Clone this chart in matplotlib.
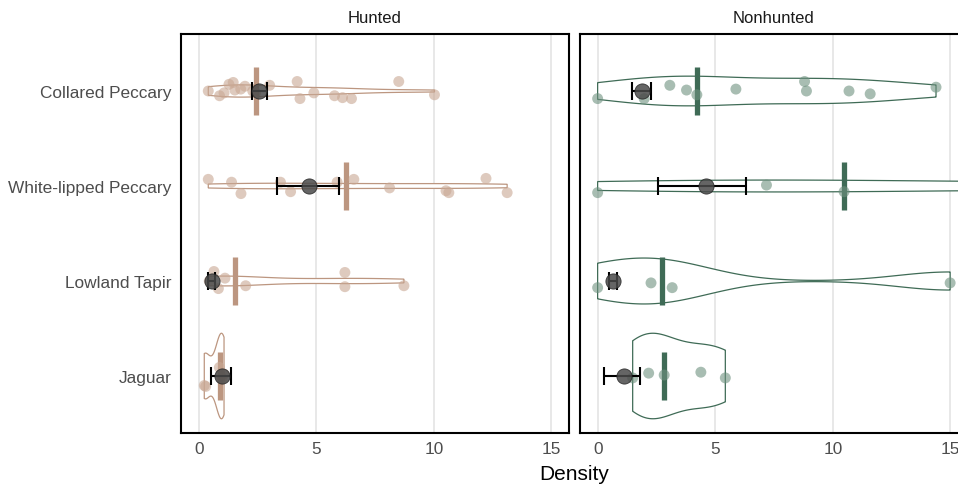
import numpy as np
import matplotlib
matplotlib.use("Agg")
import matplotlib.pyplot as plt

plt.rcParams['font.family'] = ['Liberation Sans', 'DejaVu Sans']

# ---------------- data ----------------
species = ["Jaguar", "Lowland Tapir", "White-lipped Peccary", "Collared Peccary"]  # bottom -> top
panels = ["Hunted", "Nonhunted"]

# Hunted raw densities (per species) and vertical jitter offsets
hunted_jaguar = [0.24, 0.30, 0.88, 0.94, 1.00, 1.08]
hunted_jaguar_jit = [-0.10, -0.11, 0.09, 0.00, -0.03, 0.02]
hunted_tapir = [0.45, 0.65, 0.84, 1.12, 2.00, 6.22, 6.22, 8.73]
hunted_tapir_jit = [0.00, 0.10, -0.08, 0.03, -0.05, 0.09, -0.06, -0.05]
hunted_wlp = [0.41, 1.40, 1.80, 3.48, 3.91, 5.89, 6.60, 8.12, 10.52, 10.64, 12.22, 13.12]
hunted_wlp_jit = [0.07, 0.04, -0.08, 0.04, -0.06, 0.04, 0.07, -0.02, -0.05, -0.07, 0.08, -0.07]
hunted_cp = [0.41, 0.89, 1.08, 1.29, 1.47, 1.54, 1.79, 1.97, 2.30, 2.42, 3.02, 4.19, 4.31,
             4.90, 5.78, 6.12, 6.50, 8.51, 10.03]
hunted_cp_jit = [0.00, -0.05, -0.02, 0.07, 0.09, 0.01, 0.02, 0.05, 0.00, -0.02, 0.06, 0.10,
                 -0.08, -0.02, -0.05, -0.07, -0.08, 0.10, -0.04]

# Nonhunted
nonhunted_jaguar = [1.49, 2.17, 2.83, 4.39, 5.43]
nonhunted_jaguar_jit = [-0.02, 0.03, 0.01, 0.04, -0.02]
nonhunted_tapir = [0.00, 2.27, 3.17, 14.99]
nonhunted_tapir_jit = [-0.07, -0.02, -0.07, -0.02]
nonhunted_wlp = [0.00, 7.18, 10.48, 22.0, 33.0]
nonhunted_wlp_jit = [-0.07, 0.01, -0.06, 0.00, 0.00]
nonhunted_cp = [0.00, 1.98, 3.07, 3.78, 4.22, 5.88, 8.80, 8.88, 10.69, 11.59, 14.39]
nonhunted_cp_jit = [-0.08, -0.08, 0.06, 0.01, -0.04, 0.02, 0.10, 0.00, 0.00, -0.03, 0.04]

# medians (thick bar), model estimates (dot) with interval, order = species
hunted_median = [0.91, 1.56, 6.25, 2.42]
hunted_est = [0.98, 0.55, 4.70, 2.58]
hunted_lo = [0.54, 0.41, 3.34, 2.25]
hunted_hi = [1.36, 0.69, 5.98, 2.89]

nonhunted_median = [2.83, 2.72, 10.48, 4.22]
nonhunted_est = [1.10, 0.64, 4.60, 1.88]
nonhunted_lo = [0.28, 0.47, 2.58, 1.45]
nonhunted_hi = [1.81, 0.82, 6.30, 2.27]

x_ticks = [0, 5, 10, 15]

panel_data = {
    "Hunted": dict(
        vals=[hunted_jaguar, hunted_tapir, hunted_wlp, hunted_cp],
        jit=[hunted_jaguar_jit, hunted_tapir_jit, hunted_wlp_jit, hunted_cp_jit],
        med=hunted_median, est=hunted_est, lo=hunted_lo, hi=hunted_hi,
        line="#BC9680", pt="#C9A894"),
    "Nonhunted": dict(
        vals=[nonhunted_jaguar, nonhunted_tapir, nonhunted_wlp, nonhunted_cp],
        jit=[nonhunted_jaguar_jit, nonhunted_tapir_jit, nonhunted_wlp_jit, nonhunted_cp_jit],
        med=nonhunted_median, est=nonhunted_est, lo=nonhunted_lo, hi=nonhunted_hi,
        line="#3F6B56", pt="#6E917F"),
}


def bw_nrd0(x):
    x = np.asarray(x, float)
    hi = np.std(x, ddof=1)
    q1, q3 = np.percentile(x, [25, 75])
    lo = min(hi, (q3 - q1) / 1.34)
    if lo <= 0:
        lo = hi if hi > 0 else 1.0
    return 0.9 * lo * len(x) ** (-0.2)


def kde(x, grid):
    x = np.asarray(x, float)
    bw = bw_nrd0(x)
    z = (grid[:, None] - x[None, :]) / bw
    return np.exp(-0.5 * z ** 2).sum(axis=1) / (len(x) * bw * np.sqrt(2 * np.pi))


# ---------------- figure ----------------
W, H = 958, 485
fig = plt.figure(figsize=(W / 100, H / 100), dpi=100)
ax_w = 388 / W
ax_h = 399 / H
bottom = (H - 434) / H
lefts = [181 / W, 580 / W]

for pi, pname in enumerate(panels):
    ax = fig.add_axes([lefts[pi], bottom, ax_w, ax_h])
    d = panel_data[pname]
    ax.set_xlim(-0.75, 15.75)
    ax.set_ylim(0.4, 4.6)
    for xt in x_ticks:
        ax.axvline(xt, color="#E6E6E6", lw=1.3, zorder=0)

    # violins (scale = area within panel)
    grids, dens = [], []
    for v in d["vals"]:
        g = np.linspace(min(v), max(v), 512)
        grids.append(g)
        dens.append(kde(v, g))
    dmax = max(dd.max() for dd in dens)
    for i, (g, dd) in enumerate(zip(grids, dens)):
        yc = i + 1
        w = dd / dmax * 0.45
        xs = np.concatenate([g, g[::-1], [g[0]]])
        ys = np.concatenate([yc + w, (yc - w)[::-1], [yc + w[0]]])
        ax.fill(xs, ys, facecolor="white", edgecolor=d["line"], lw=0.9, zorder=1)

    # median bars
    for i, m in enumerate(d["med"]):
        ax.plot([m, m], [i + 1 - 0.25, i + 1 + 0.25], color=d["line"], lw=3.8,
                solid_capstyle="butt", zorder=2)

    # jittered points
    for i, (v, j) in enumerate(zip(d["vals"], d["jit"])):
        ax.scatter(v, np.array(j) + i + 1, s=62, color=d["pt"], alpha=0.6,
                   edgecolors="none", zorder=3)

    # estimates with intervals
    ys = np.arange(1, 5)
    est = np.array(d["est"])
    ax.errorbar(est, ys, xerr=[est - np.array(d["lo"]), np.array(d["hi"]) - est],
                fmt="none", ecolor="black", elinewidth=1.5, capsize=6.5, capthick=1.5,
                zorder=4)
    ax.scatter(est, ys, s=120, color="#4A4A4A", alpha=0.85, edgecolors="#222222",
               linewidths=0.6, zorder=5)

    ax.set_xticks(x_ticks)
    ax.set_xticklabels([str(t) for t in x_ticks])
    ax.set_yticks(ys)
    if pi == 0:
        ax.set_yticklabels(species)
    else:
        ax.set_yticklabels([])
    ax.tick_params(axis="both", length=0, labelsize=12.4, colors="#4D4D4D")
    ax.tick_params(axis="x", pad=6)
    ax.tick_params(axis="y", pad=7)
    for s in ax.spines.values():
        s.set_color("black")
        s.set_linewidth(1.5)
    ax.text(0.5, 1 + 17 / 399, pname, transform=ax.transAxes, ha="center", va="center",
            fontsize=12, color="#1A1A1A")

fig.text(574.5 / W, (H - 475) / H, "Density", ha="center", va="center", fontsize=15,
         color="black")

fig.savefig("out.png", dpi=100)
